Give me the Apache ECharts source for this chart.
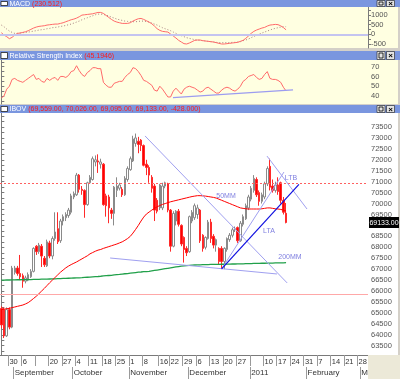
<!DOCTYPE html>
<html><head><meta charset="utf-8">
<script src="https://cdn.jsdelivr.net/npm/echarts@6/dist/echarts.min.js"></script>
<style>html,body{margin:0;padding:0;background:#d4d0c8;overflow:hidden}#c{width:400px;height:379px}</style>
</head><body><div id="c"></div>
<script>
// ---- categories: weekdays from 2010-08-25 ----
const nDays = 137;
const dates = [];
(function(){ let d = new Date(Date.UTC(2010,7,25));
  while (dates.length < nDays) { const w = d.getUTCDay(); if (w !== 0 && w !== 6) dates.push(d.toISOString().slice(0,10)); d = new Date(d.getTime()+86400000); } })();

const dayTickIdx  = [3,8,13,18,23,28,33,38,43,48,53,59,63,68,73,78,83,88,93,98,103,108,113,118,123,128,133];
const dayTickText = ['30','6','','20','27','4','11','18','25','1','8','16','22','29','6','13','20','27','','10','17','24','31','7','14','21','28'];
const monthTickIdx = [5,27,48,70,93,114,134];
const monthText = ['September','October','November','December','2011','February','March'];

// ---- IBOV daily OHLC ----
const openP = [65200,65150,63950,65150,64350,66850,67050,66800,66700,66450,
66500,66650,66900,68050,67800,68050,67500,67150,68200,67600,
68400,68850,68300,69200,69350,69450,69600,70300,70400,71300,
70650,70600,69950,70950,71100,71900,71950,71800,71800,70350,
70300,69700,69550,70600,70700,70650,70400,71100,71550,71950,
72750,72850,72900,72650,71800,71650,71200,70800,70150,69800,
69800,70800,70900,69700,68050,69200,69650,69000,68450,67950,
67800,69200,69350,69500,69700,68550,68000,68400,69150,68500,
68100,67950,67950,67350,67900,68350,68550,68800,68900,68300,
69050,69300,69800,70200,70600,71100,70500,70100,70300,70900,
71700,70800,70600,70850,70950,70150,69559];
const closeP = [64450,63950,65150,64350,67050,67050,66800,66650,66450,66600,
66750,66900,67950,67800,68100,67600,67200,68250,67600,68400,
68700,68250,69200,69400,69500,69700,70350,70450,71300,70650,
70600,69950,70950,71200,72050,72000,71900,71900,69950,69900,
69800,69550,70750,70800,70850,70400,71150,71600,72050,72950,
73000,72700,72650,71750,71650,71300,70700,69700,69650,70850,
70800,70950,69700,68050,69550,69650,69050,68150,67900,67750,
69400,69600,69900,69800,68300,67950,68450,69150,68400,68100,
68350,67350,67350,67950,68400,68550,68800,68850,68300,69100,
69400,69900,70300,70700,71150,70400,70100,70400,70900,71600,
70750,70600,70850,70550,70150,69600,69133];
const lowP = [64300,63850,63900,64250,64300,66750,66700,66500,66150,66350,
66450,66600,66850,67650,67700,67100,67100,67100,67500,67450,
68300,68150,68200,69000,69200,69350,69500,70200,70350,70500,
70400,69350,69900,70900,71050,71700,71400,71600,69900,69400,
69100,69300,69000,70300,70600,70300,70350,71000,71500,71900,
72600,72300,72400,71700,71300,70950,70500,69200,69550,69700,
69700,70700,69600,67800,68000,69000,68950,68050,67300,67600,
67750,69100,69250,69300,68200,67800,67900,68350,68200,67950,
67800,67200,67000,67000,67800,68250,68450,68700,68200,68250,
68950,69250,69700,70100,70500,70300,69900,70000,70200,70800,
70600,70500,70500,70400,70000,69500,69095];
const highP = [65300,65250,65250,65250,67150,67150,67150,67650,66800,66700,
66850,67000,68000,68100,68200,68150,67600,68350,68300,68500,
69600,69600,69300,69500,69600,69800,70450,70550,71400,71350,
70800,70650,71000,71300,72150,72200,72250,72050,71850,70450,
70400,69800,70800,71200,70950,70750,71250,71700,72150,73100,
73200,73050,72950,72700,72000,71750,71300,70900,70250,70900,
70950,71000,70950,69750,69650,69700,69750,69050,68500,68050,
69450,69700,70000,69950,69750,68600,68500,69250,69300,68600,
68400,68000,68050,68000,68450,68650,68900,68950,68950,69200,
69500,70000,70400,70800,71300,71200,70600,70500,71000,71700,
72050,71100,71000,71200,71000,70300,70026];

// ---- moving averages ----
const ma50 = [65150,65170,65190,65210,65240,65270,65300,65330,65360,65410,
65470,65560,65660,65760,65880,66000,66120,66250,66380,66500,
66620,66740,66860,66960,67060,67140,67210,67270,67330,67400,
67470,67540,67610,67700,67760,67820,67870,67900,67950,67990,
68030,68070,68110,68150,68200,68250,68320,68400,68500,68650,
68820,69000,69200,69380,69520,69610,69700,69780,69850,69910,
69960,70000,70040,70080,70110,70140,70170,70200,70230,70260,
70290,70320,70340,70360,70360,70350,70340,70320,70300,70280,
70250,70200,70150,70100,70050,70000,69950,69900,69850,69800,
69780,69760,69750,69750,69750,69750,69750,69760,69780,69800,
69800,69780,69760,69750,69730,69700,69660];
const ma200 = [66500,66500,66505,66505,66510,66510,66515,66515,66520,66520,
66525,66525,66530,66530,66535,66540,66540,66545,66550,66555,
66560,66565,66570,66575,66580,66585,66590,66595,66600,66605,
66610,66620,66630,66640,66650,66660,66665,66675,66690,66700,
66710,66720,66735,66750,66760,66775,66790,66800,66815,66830,
66845,66860,66870,66885,66885,66900,66920,66940,66960,66980,
67000,67020,67040,67060,67080,67100,67120,67140,67150,67160,
67170,67180,67190,67195,67200,67205,67210,67210,67215,67215,
67220,67220,67225,67225,67230,67230,67235,67235,67240,67240,
67245,67250,67250,67255,67260,67260,67265,67270,67270,67275,
67280,67280,67285,67285,67290,67290,67295];

// ---- MACD ----
const macdLine = [84,-36,-122,-225,-156,-36,50,67,101,136,
187,256,325,376,411,428,445,479,496,514,
531,531,565,600,651,703,754,789,840,909,
995,1012,1029,1046,1063,1098,1132,1132,1081,978,
874,771,685,634,600,565,565,565,600,685,
754,806,823,771,703,634,548,428,290,204,
153,136,119,15,-88,-191,-311,-397,-483,-500,
-448,-380,-311,-294,-294,-328,-345,-362,-380,-397,
-431,-466,-500,-500,-483,-466,-448,-431,-414,-362,
-311,-208,-88,50,153,222,273,325,359,428,
479,496,514,500,440,350,231];
const macdSignal = [479,393,273,170,101,50,50,67,84,101,
119,136,170,187,222,239,256,290,308,342,
359,376,411,428,462,496,531,582,634,685,
754,806,857,909,960,1012,1046,1046,1029,995,
943,892,840,789,754,720,685,668,651,651,
651,668,685,685,668,634,582,531,479,411,
342,290,239,187,119,50,-19,-70,-122,-174,
-208,-242,-277,-294,-311,-328,-345,-362,-380,-397,
-414,-431,-431,-431,-431,-431,-414,-414,-397,-380,
-328,-294,-242,-174,-105,-53,15,67,119,170,
222,273,308,342,376,393,393];

// ---- RSI ----
const rsi = [38,40,47,50,57,58,56,55,54,56,
58,60,62,57,58,55,54,58,56,58,
59,56,60,60,59,61,65,66,71,66,
62,60,64,66,69,69,68,68,54,51,
49,49,53,54,55,55,59,62,64,69,
68,65,61,56,55,53,51,46,45,50,
47,43,39,39,45,48,45,42,47,49,
50,49,48,46,44,45,48,49,47,45,
43,43,46,48,49,48,46,45,47,50,
55,57,60,61,62,59,57,58,62,65,
58,57,57,56,54,49,45.19];
const rsiTrend = [[63.9,38.3],[108.6,46.2]];

// ---- drawn lines on price panel: [dayIndex, price] pairs ----
const trendA   = [[53.5,73090],[106.4,66370]];
const trendB   = [[40.5,67510],[102.6,66780]];
const trendD   = [[82.2,67050],[105.2,71440]];
const trendLTB = [[98.9,72170],[113.8,69750]];
const trendLTA = [[82.0,67010],[110.8,70880]];
const resistanceLevel = 70950;
const supportLevel = 65850;

// ---- axis ticks ----
const macdTicks = [-500,-250,0,250,500,750,1000,1250];
const macdLabels = [-500,0,500,1000];
const rsiTicks = [35,40,45,50,55,60,65,70,75];
const rsiLabels = [40,50,60,70];
const priceLabels = [63500,64000,64500,65000,65500,66000,66500,67000,67500,68000,68500,69000,69500,70000,70500,71000,71500,72000,72500,73000,73500];
const priceTicks = [63250,63500,63750,64000,64250,64500,64750,65000,65250,65500,65750,66000,66250,66500,66750,67000,67250,67500,67750,68000,68250,68500,68750,69000,69250,69500,69750,70000,70250,70500,70750,71000,71250,71500,71750,72000,72250,72500,72750,73000,73250,73500,73750,74000];

const FONT = '"Liberation Sans", Arial, sans-serif';
const chart = echarts.init(document.getElementById('c'), null, {renderer:'canvas'});

function yAx(grid, min, max, ticks, labels){
  return {type:'value', gridIndex:grid, position:'right', min:min, max:max, scale:true,
    splitLine:{show:false},
    axisLine:{show:true, lineStyle:{color:'#7a7a7a', width:1}},
    axisTick:{show:true, customValues:ticks, length:3, lineStyle:{color:'#7a7a7a'}},
    axisLabel:{customValues:labels, fontSize:7.5, fontFamily:FONT, color:'#555', margin:3, formatter:v=>String(v)}};
}

function titleBar(y, h, name, val){
  return [
    {type:'rect', shape:{x:0,y:y,width:400,height:h}, style:{fill:'#7a96df'}, z:100},
    {type:'rect', shape:{x:1,y:y+1.5,width:6.5,height:h-3}, style:{fill:'#ffffff', stroke:'#222', lineWidth:0.8}, z:101},
    {type:'text', x:9.5, y:y+h/2+0.5, style:{text:'{w|'+name+' }{r|'+val+'}', verticalAlign:'middle',
      rich:{w:{fill:'#ffffff', fontSize:7, fontFamily:FONT}, r:{fill:'#ff1a1a', fontSize:7, fontFamily:FONT}}}, z:101},
    {type:'rect', shape:{x:377,y:y+0.5,width:8,height:h-1}, style:{fill:'#e4e4e4', stroke:'#333', lineWidth:0.7}, z:101},
    {type:'rect', shape:{x:379,y:y+2,width:4,height:h-4}, style:{fill:'none', stroke:'#000', lineWidth:0.8}, z:102},
    {type:'rect', shape:{x:386.5,y:y+0.5,width:8,height:h-1}, style:{fill:'#e4e4e4', stroke:'#333', lineWidth:0.7}, z:101},
    {type:'text', x:390.5, y:y+h/2+0.5, style:{text:'×', fill:'#000', font:'bold 8px '+FONT, align:'center', verticalAlign:'middle'}, z:102}
  ];
}

const annotate = (txt, x, y) => ({type:'text', x:x, y:y, style:{text:txt, fill:'#8080e0', font:'7px '+FONT, align:'center', verticalAlign:'middle'}, z:60});

const graphics = [
  {type:'rect', shape:{x:0,y:7,width:398,height:41}, style:{fill:'#ffffe1'}, z:-10},
  {type:'rect', shape:{x:0,y:60,width:398,height:44}, style:{fill:'#ffffe1'}, z:-10},
  {type:'rect', shape:{x:0,y:113,width:398,height:242}, style:{fill:'#ffffff'}, z:-10},
  {type:'rect', shape:{x:0,y:355,width:368,height:24}, style:{fill:'#ffffff'}, z:-10},
  {type:'rect', shape:{x:368,y:355,width:32,height:24}, style:{fill:'#ece9d8'}, z:50},
  ...titleBar(0, 7, 'MACD', '(230.512)'),
  ...titleBar(51, 9, 'Relative Strength Index', '(45.1946)'),
  ...titleBar(105, 8, 'IBOV', '(69,559.00, 70,026.00, 69,095.00, 69,133.00, -428.000)'),
  annotate('50MM', 226, 196),
  annotate('200MM', 290, 257.5),
  annotate('LTA', 269, 231),
  annotate('LTB', 291, 178)
];

const tl = (pts, color, width) => ({coords: pts, lineStyle:{color:color, width:width, opacity:1}});

const option = {
  animation:false,
  backgroundColor:'transparent',
  grid:[
    {left:0, top:7, width:368, height:41},
    {left:0, top:60, width:368, height:44},
    {left:0, top:113, width:368, height:242}
  ],
  xAxis:[
    {type:'category', gridIndex:0, data:dates, show:false},
    {type:'category', gridIndex:1, data:dates, show:false},
    {type:'category', gridIndex:2, data:dates,
      axisLine:{show:true, lineStyle:{color:'#7a7a7a'}},
      axisTick:{show:true, interval:(i)=>dayTickIdx.indexOf(i)>=0, length:11, lineStyle:{color:'#9a9a9a'}},
      axisLabel:{interval:(i)=>dayTickIdx.indexOf(i)>=0, formatter:(v,i)=>{const k=dayTickIdx.indexOf(i); return k>=0?dayTickText[k]:'';},
        align:'left', margin:3, fontSize:7.5, fontFamily:FONT, color:'#333'}},
    {type:'category', gridIndex:2, data:dates, position:'bottom', offset:12,
      axisLine:{show:false},
      axisTick:{show:true, interval:(i)=>monthTickIdx.indexOf(i)>=0, length:12, lineStyle:{color:'#9a9a9a'}},
      axisLabel:{interval:(i)=>monthTickIdx.indexOf(i)>=0, formatter:(v,i)=>{const k=monthTickIdx.indexOf(i); return k>=0?monthText[k]:'';},
        align:'left', margin:2, fontSize:8, fontFamily:FONT, color:'#333'}},
    {type:'value', gridIndex:2, min:-0.5, max:nDays-0.5, show:false},
    {type:'value', gridIndex:1, min:-0.5, max:nDays-0.5, show:false}
  ],
  yAxis:[
    yAx(0, -707, 1414, macdTicks, macdLabels),
    yAx(1, 31.8, 76.86, rsiTicks, rsiLabels),
    yAx(2, 63075, 74140, priceTicks, priceLabels)
  ],
  series:[
    {type:'line', name:'MACD', xAxisIndex:0, yAxisIndex:0, data:macdLine, symbol:'none', z:4,
      lineStyle:{color:'#ff6a6a', width:1},
      markLine:{silent:true, symbol:'none', label:{show:false}, lineStyle:{color:'#c4c4f0', width:2, type:'solid'}, data:[{yAxis:0}]}},
    {type:'line', name:'Signal', xAxisIndex:0, yAxisIndex:0, data:macdSignal, symbol:'none', z:3,
      lineStyle:{color:'#a88080', width:1, type:[1,2]}},
    {type:'line', name:'RSI', xAxisIndex:1, yAxisIndex:1, data:rsi, symbol:'none', z:3,
      lineStyle:{color:'#ff6a6a', width:1}},
    {type:'line', name:'RSI trend', xAxisIndex:5, yAxisIndex:1, data:rsiTrend, symbol:'none', z:4,
      lineStyle:{color:'#9c9cf0', width:1.3}},
    {type:'candlestick', name:'IBOV', xAxisIndex:2, yAxisIndex:2, barWidth:2, z:3,
      data: openP.map((o,i)=>[o, closeP[i], lowP[i], highP[i]]),
      itemStyle:{color:'#ffffff', color0:'#ff0000', borderColor:'#8a8a8a', borderColor0:'#ff2a2a', borderWidth:1},
      markLine:{silent:true, symbol:'none', label:{show:false}, data:[
        {yAxis:resistanceLevel, lineStyle:{color:'#ff6060', width:1, type:[2,2]}},
        {yAxis:supportLevel, lineStyle:{color:'#ffa8a8', width:1.2, type:'solid'}}
      ]}},
    {type:'line', name:'200MM', xAxisIndex:2, yAxisIndex:2, data:ma200, symbol:'none', z:4,
      lineStyle:{color:'#21a04a', width:1.3}},
    {type:'line', name:'50MM', xAxisIndex:2, yAxisIndex:2, data:ma50, symbol:'none', z:4,
      lineStyle:{color:'#ff0000', width:1}},
    {type:'lines', coordinateSystem:'cartesian2d', xAxisIndex:4, yAxisIndex:2, silent:true, z:5,
      data:[
        tl(trendA, '#a0a0f0', 1),
        tl(trendB, '#a0a0f0', 1),
        tl(trendD, '#a0a0f0', 1),
        tl(trendLTB, '#a0a0f0', 1),
        tl(trendLTA, '#1010e0', 1.2)
      ]}
  ],
  graphic: graphics
};
chart.setOption(option);

const py = chart.convertToPixel({yAxisIndex:2}, closeP[closeP.length-1]);
chart.setOption({graphic: graphics.concat([
  {type:'rect', shape:{x:369, y:py-5.5, width:30, height:11}, style:{fill:'#000000'}, z:110},
  {type:'text', x:384, y:py+0.5, style:{text:closeP[closeP.length-1].toFixed(2), fill:'#ffffff', font:'7px '+FONT, align:'center', verticalAlign:'middle'}, z:111}
])});
</script>
</body></html>
